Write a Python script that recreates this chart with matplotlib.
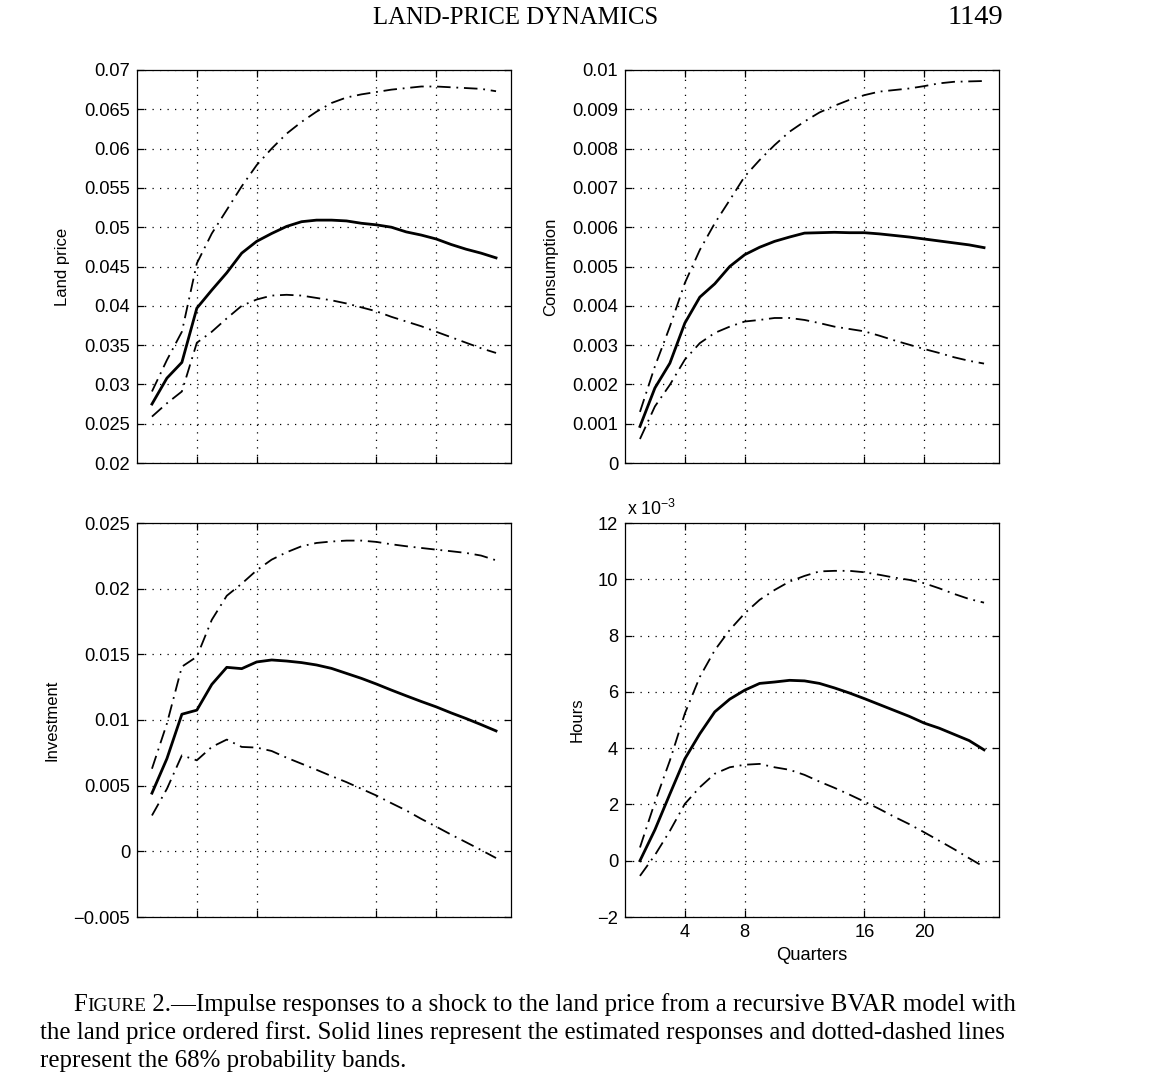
import matplotlib
matplotlib.use('Agg')
import matplotlib.pyplot as plt
from matplotlib.ticker import FuncFormatter

quarters = list(range(1, 25))

# Land price
land_mid = [0.0275, 0.0308, 0.0328, 0.0397, 0.0420, 0.0442, 0.0467, 0.0482, 0.0492, 0.0501, 0.0507, 0.0509,
            0.0509, 0.0508, 0.0505, 0.0503, 0.0500, 0.0494, 0.0490, 0.0485, 0.0478, 0.0472, 0.0467, 0.0461]
land_hi = [0.0291, 0.0331, 0.0367, 0.0454, 0.0492, 0.0522, 0.0552, 0.0579, 0.0600, 0.0619, 0.0634, 0.0647,
           0.0658, 0.0665, 0.0669, 0.0672, 0.0675, 0.0677, 0.0679, 0.0679, 0.0678, 0.0677, 0.0676, 0.0673]
land_lo = [0.0259, 0.0276, 0.0291, 0.0353, 0.0367, 0.0384, 0.0400, 0.0408, 0.0413, 0.0414, 0.0413, 0.0410,
           0.0407, 0.0403, 0.0398, 0.0393, 0.0386, 0.0380, 0.0374, 0.0367, 0.0360, 0.0353, 0.0346, 0.0340]

# Consumption
cons_mid = [0.00093, 0.00191, 0.00254, 0.00356, 0.00422, 0.00456, 0.00500, 0.00530, 0.00549, 0.00564, 0.00575, 0.00585,
            0.00586, 0.00587, 0.00586, 0.00586, 0.00583, 0.00579, 0.00575, 0.00570, 0.00565, 0.00560, 0.00555, 0.00548]
cons_hi = [0.00130, 0.00246, 0.00347, 0.00458, 0.00542, 0.00610, 0.00669, 0.00729, 0.00771, 0.00809, 0.00843, 0.00869,
           0.00892, 0.00909, 0.00924, 0.00936, 0.00945, 0.00949, 0.00953, 0.00959, 0.00966, 0.00970, 0.00971, 0.00972]
cons_lo = [0.00061, 0.00144, 0.00199, 0.00263, 0.00305, 0.00331, 0.00347, 0.00360, 0.00364, 0.00369, 0.00369, 0.00364,
           0.00356, 0.00347, 0.00341, 0.00335, 0.00324, 0.00312, 0.00301, 0.00290, 0.00280, 0.00269, 0.00260, 0.00253]

# Investment
inv_mid = [0.00443, 0.00706, 0.01044, 0.01075, 0.01271, 0.01401, 0.01391, 0.01442, 0.01457, 0.01449, 0.01437, 0.01419,
           0.01393, 0.01355, 0.01317, 0.01274, 0.01228, 0.01184, 0.01141, 0.01100, 0.01054, 0.01011, 0.00965, 0.00917]
inv_hi = [0.00629, 0.00973, 0.01406, 0.01482, 0.01763, 0.01946, 0.02038, 0.02140, 0.02221, 0.02277, 0.02323, 0.02348,
          0.02359, 0.02366, 0.02366, 0.02356, 0.02338, 0.02323, 0.02310, 0.02297, 0.02285, 0.02272, 0.02252, 0.02216]
inv_lo = [0.00273, 0.00476, 0.00731, 0.00693, 0.00795, 0.00851, 0.00795, 0.00790, 0.00764, 0.00713, 0.00667, 0.00621,
          0.00573, 0.00527, 0.00476, 0.00425, 0.00367, 0.00311, 0.00247, 0.00188, 0.00127, 0.00069, 0.00010, -0.00051]

# Hours (in units of 1e-3)
hours_mid = [0.0, 1.10, 2.37, 3.62, 4.51, 5.29, 5.74, 6.06, 6.30, 6.35, 6.41, 6.39,
             6.30, 6.14, 5.96, 5.76, 5.55, 5.34, 5.13, 4.89, 4.71, 4.49, 4.27, 3.94]
hours_hi = [0.47, 2.08, 3.56, 5.23, 6.53, 7.48, 8.20, 8.79, 9.27, 9.62, 9.92, 10.12,
            10.28, 10.30, 10.30, 10.25, 10.16, 10.06, 9.98, 9.86, 9.68, 9.48, 9.30, 9.17]
hours_lo = [-0.54, 0.20, 1.06, 2.02, 2.61, 3.09, 3.32, 3.41, 3.44, 3.32, 3.23, 3.05,
            2.81, 2.59, 2.35, 2.10, 1.84, 1.56, 1.30, 1.01, 0.71, 0.41, 0.09, -0.22]

xticks = [4, 8, 16, 20]

W, H = 1174, 1072
fig = plt.figure(figsize=(W / 100, H / 100), dpi=100)
sans = ['Liberation Sans', 'DejaVu Sans']
serif = ['Liberation Serif', 'DejaVu Serif']
TICK_FS = 13.2
LAB_FS = 12


def fmt(v, pos):
    s = '%g' % round(v, 6)
    return s.replace('-', '\u2212')


def panel(rect, mid, hi, lo, ylim, ystep, ylabel, labx, show_x):
    l, t, r, b = rect
    ax = fig.add_axes([l / W, 1 - b / H, (r - l) / W, (b - t) / H])
    ax.plot(quarters, hi, color='k', lw=1.3, dashes=(7.5, 3.2, 1, 3.2))
    ax.plot(quarters, lo, color='k', lw=1.3, dashes=(7.5, 3.2, 1, 3.2))
    ax.plot(quarters, mid, color='k', lw=2.0, solid_joinstyle='round')
    ax.set_xlim(0, 25)
    ax.set_ylim(*ylim)
    n = int(round((ylim[1] - ylim[0]) / ystep))
    ax.set_yticks([ylim[0] + i * ystep for i in range(n + 1)])
    ax.set_xticks(xticks)
    ax.yaxis.set_major_formatter(FuncFormatter(fmt))
    ax.grid(True, color='k', lw=0.9, linestyle=(0, (1, 5)))
    ax.tick_params(direction='in', length=5, width=0.9, top=True, right=True,
                   labelsize=TICK_FS, pad=5, colors='k')
    if not show_x:
        ax.set_xticklabels([])
    for lab in ax.get_xticklabels() + ax.get_yticklabels():
        lab.set_family(sans)
    for sp in ax.spines.values():
        sp.set_linewidth(0.9)
    ax.set_ylabel(ylabel, fontsize=LAB_FS, family=sans)
    ax.yaxis.set_label_coords(labx, 0.5)
    return ax


panel((137, 70, 511, 463), land_mid, land_hi, land_lo, (0.02, 0.07), 0.005, 'Land price', -0.179, False)
panel((625, 70, 999, 463), cons_mid, cons_hi, cons_lo, (0.0, 0.01), 0.001, 'Consumption', -0.179, False)
panel((137, 523, 511, 917), inv_mid, inv_hi, inv_lo, (-0.005, 0.025), 0.005, 'Investment', -0.206, False)
ax4 = panel((625, 523, 999, 917), hours_mid, hours_hi, hours_lo, (-2, 12), 2, 'Hours', -0.107, True)
ax4.set_xlabel('Quarters', fontsize=TICK_FS, family=sans, labelpad=4)
ax4.text(0.005, 1.02, 'x 10$^{\\mathregular{\u22123}}$', transform=ax4.transAxes,
         fontsize=12.8, family=sans, ha='left', va='baseline')

# header
fig.text(516 / W, 1 - 24 / H, 'LAND-PRICE DYNAMICS', family=serif, fontsize=17.8,
         ha='center', va='baseline')
fig.text(1003 / W, 1 - 24 / H, '1149', family=serif, fontsize=20.5, ha='right', va='baseline')

# caption with small caps "Figure"
fig.canvas.draw()
rend = fig.canvas.get_renderer()
cap_size = 17.9
y1 = 1 - 1011 / H
t1 = fig.text(73 / W, y1, 'F', family=serif, fontsize=cap_size, ha='left', va='baseline')
x = t1.get_window_extent(rend).x1 / W
t2 = fig.text(x, y1, 'IGURE', family=serif, fontsize=cap_size * 0.78, ha='left', va='baseline')
x = t2.get_window_extent(rend).x1 / W
fig.text(x, y1, ' 2.\u2014Impulse responses to a shock to the land price from a recursive BVAR model with',
         family=serif, fontsize=cap_size, ha='left', va='baseline')
fig.text(40 / W, 1 - 1039 / H,
         'the land price ordered first. Solid lines represent the estimated responses and dotted-dashed lines',
         family=serif, fontsize=cap_size, ha='left', va='baseline')
fig.text(40 / W, 1 - 1067 / H, 'represent the 68% probability bands.',
         family=serif, fontsize=cap_size, ha='left', va='baseline')

fig.savefig('out.png', dpi=100)
